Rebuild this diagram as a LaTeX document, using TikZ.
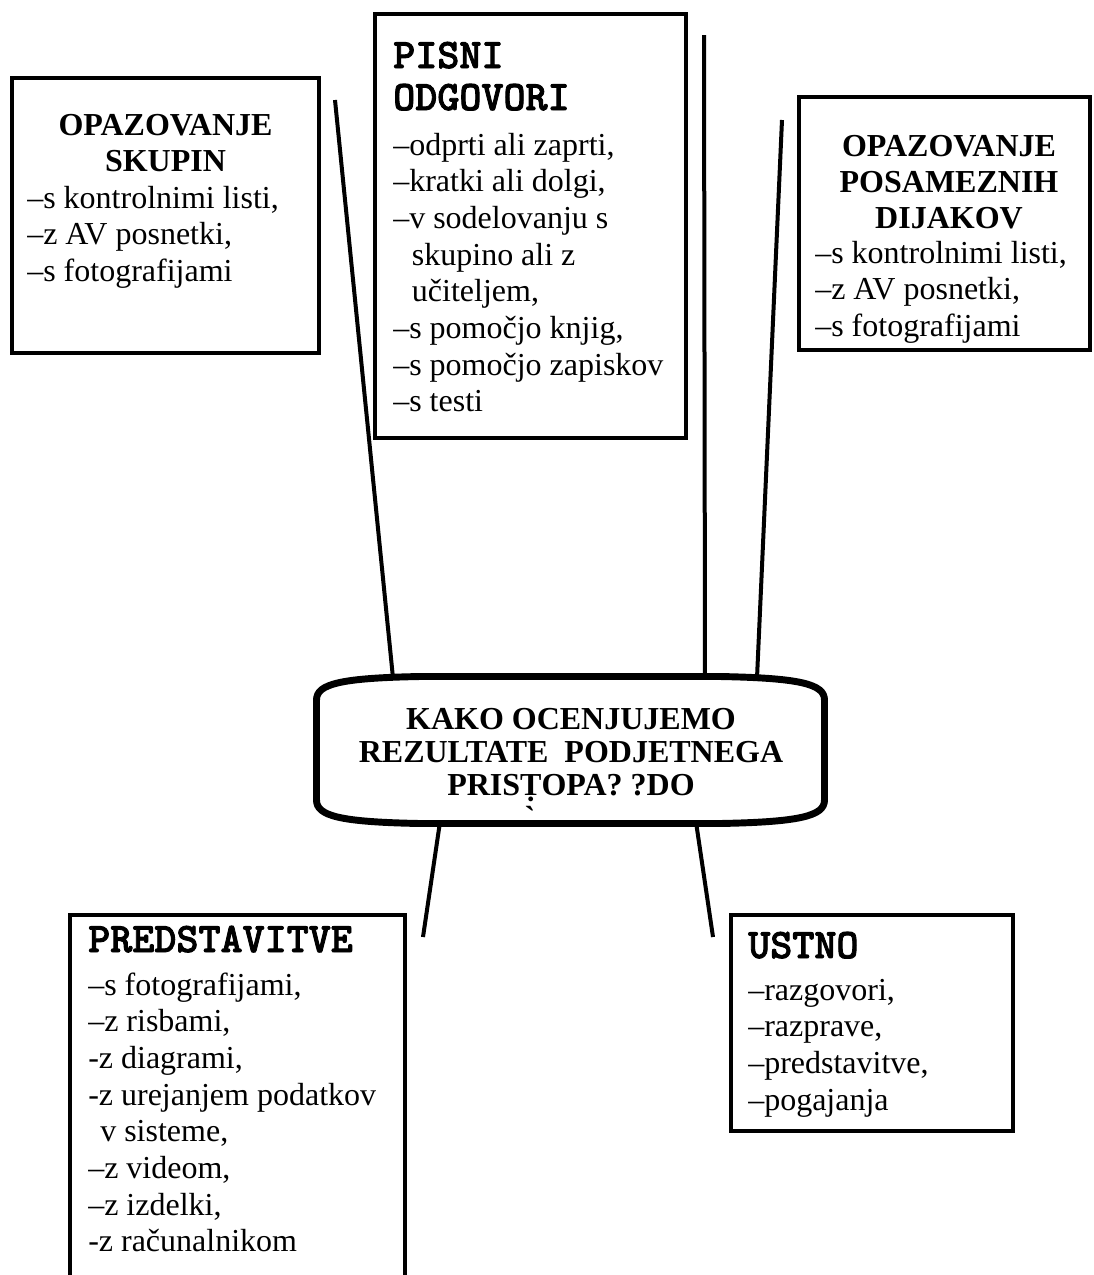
\documentclass[tikz,border=0pt]{standalone}
\usepackage{fontspec}
\setmainfont{Liberation Serif}
\newfontfamily\gravefont[Ligatures=TeXOff]{Liberation Serif}
\newfontfamily\courfont[Extension=.otf, FakeBold=2]{lmmonolt10-bold}
\usetikzlibrary{fit}
\begin{document}
\begin{tikzpicture}[x=0.75pt,y=-0.75pt,
  box/.style={draw, line width=3.4pt, inner sep=0pt, rectangle},
  link/.style={line width=3pt},
  body/.style={inner sep=0pt, anchor=base west, font=\fontsize{24}{27.5}\selectfont},
  head/.style={inner sep=0pt, anchor=base, font=\fontsize{24}{27.3}\selectfont\bfseries},
  monohead/.style={inner sep=0pt, anchor=base west, font=\fontsize{31.5}{31.5}\selectfont\courfont},
  centertext/.style={inner sep=0pt, anchor=base, font=\fontsize{24}{24.75}\selectfont\bfseries},
]
\useasboundingbox (0,0) rectangle (1093,1275);
\clip (0,0) rectangle (1093,1275);

% connector end points
\coordinate (a1) at (335,100);
\coordinate (qa) at (393,678);
\coordinate (a2) at (704,35);
\coordinate (qb) at (705,678);
\coordinate (a3) at (782,120);
\coordinate (qc) at (757,678);
\coordinate (qd) at (440,822);
\coordinate (a4) at (423,937);
\coordinate (qe) at (696,822);
\coordinate (a5) at (713,937);

% box 1
\node[box, fit={(12,78) (319,353)}] (b1) {};
\node[head] (b1h) at (165.5,135) {\begin{tabular}[t]{@{}c@{}}OPAZOVANJE\\SKUPIN\end{tabular}};
\node[body] (b1t) at (27,208) {\begin{tabular}[t]{@{}l@{}}–s kontrolnimi listi,\\–z AV posnetki,\\–s fotografijami\end{tabular}};

% box 2
\node[box, fit={(375,14) (686,438)}] (b2) {};
\node[monohead] (b2h) at (393,68) {\begin{tabular}[t]{@{}l@{}}PISNI\\ODGOVORI\end{tabular}};
\node[body] (b2t) at (393,155) {\begin{tabular}[t]{@{}l@{}}–odprti ali zaprti,\\–kratki ali dolgi,\\–v sodelovanju s\\\hspace*{14pt}skupino ali z\\\hspace*{14pt}učiteljem,\\–s pomočjo knjig,\\–s pomočjo zapiskov\\–s testi\end{tabular}};

% box 3
\node[box, fit={(799,97) (1090,350)}] (b3) {};
\node[head] (b3h) at (949,156) {\begin{tabular}[t]{@{}c@{}}OPAZOVANJE\\POSAMEZNIH\\DIJAKOV\end{tabular}};
\node[body] (b3t) at (815,263) {\begin{tabular}[t]{@{}l@{}}–s kontrolnimi listi,\\–z AV posnetki,\\–s fotografijami\end{tabular}};

% box 5
\node[box, fit={(70,915) (405,1300)}] (b5) {};
\node[monohead] (b5h) at (88,952) {PREDSTAVITVE};
\node[body] (b5t) at (88,995) {\begin{tabular}[t]{@{}l@{}}–s fotografijami,\\–z risbami,\\-z diagrami,\\-z urejanjem podatkov\\\hspace*{9pt}v sisteme,\\–z videom,\\–z izdelki,\\-z računalnikom\end{tabular}};

% box 6
\node[box, fit={(731,915) (1013,1131)}] (b6) {};
\node[monohead] (b6h) at (748,958) {USTNO};
\node[body] (b6t) at (748,1000) {\begin{tabular}[t]{@{}l@{}}–razgovori,\\–razprave,\\–predstavitve,\\–pogajanja\end{tabular}};

% connectors
\draw[link] (a1) -- (qa);
\draw[link] (a2) -- (qb);
\draw[link] (a3) -- (qc);
\draw[link] (qd) -- (a4);
\draw[link] (qe) -- (a5);

% central shape
\draw[line width=5.2pt, fill=white] (316.5,700) .. controls (316.5,684) and (340,678) .. (420,676.5) -- (720,676.5) .. controls (800,678) and (824.5,684) .. (824.5,700) -- (824.5,800) .. controls (824.5,816) and (800,822) .. (720,823.5) -- (420,823.5) .. controls (340,822) and (316.5,816) .. (316.5,800) -- cycle;
\node[centertext] (q) at (571,729) {\begin{tabular}[t]{@{}c@{}}KAKO OCENJUJEMO\\REZULTATE\ \ PODJETNEGA\\PRIS\d{T}OPA? ?DO\end{tabular}};
\node[inner sep=0pt, anchor=base, font=\fontsize{24}{24}\selectfont\gravefont\bfseries] (gr) at (530,828) {\symbol{96}};
\end{tikzpicture}
\end{document}
